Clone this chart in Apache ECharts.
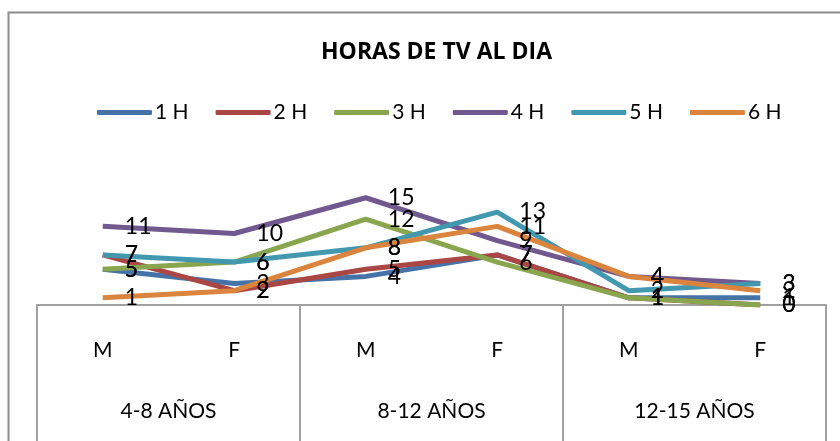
<!DOCTYPE html>
<html>
<head>
<meta charset="utf-8">
<script src="https://cdn.jsdelivr.net/npm/echarts@6/dist/echarts.min.js"></script>
<style>
  html, body { margin: 0; padding: 0; background: #fff; }
  #chart { width: 840px; height: 441px; }
</style>
</head>
<body>
<div id="chart"></div>
<script>
  // categorias del eje
  let sexos = ['M', 'F', 'M', 'F', 'M', 'F']
  let edades = ['4-8 AÑOS', '8-12 AÑOS', '12-15 AÑOS']
  let nombres = ['1 H', '2 H', '3 H', '4 H', '5 H', '6 H']

  // valores
  let h1 = [5, 3, 4, 7, 1, 1]
  let h2 = [7, 2, 5, 7, 1, 0]
  let h3 = [5, 6, 12, 6, 1, 0]
  let h4 = [11, 10, 15, 9, 4, 3]
  let h5 = [7, 6, 8, 13, 2, 3]
  let h6 = [1, 2, 8, 11, 4, 2]

  let colores = ['#4572A7', '#AA4643', '#89A54E', '#71588F', '#4198AF', '#DB843D']
  let valores = [h1, h2, h3, h4, h5, h6]
  let fuente = 'Lato, "Open Sans", sans-serif'

  let series = nombres.map((n, i) => ({
    name: n,
    type: 'line',
    data: valores[i],
    symbol: 'circle',
    symbolSize: 0.1,
    lineStyle: { width: 5, color: colores[i] },
    itemStyle: { color: colores[i] },
    label: {
      show: true,
      position: 'right',
      distance: 22,
      fontSize: 23,
      fontFamily: fuente,
      color: '#000'
    },
    emphasis: { disabled: true }
  }))

  let option = {
    animation: false,
    color: colores,
    title: {
      text: 'HORAS DE TV AL DIA',
      left: 316,
      top: 36,
      textStyle: { fontFamily: '"Open Sans", sans-serif', fontWeight: 'bold', fontSize: 23, color: '#000' }
    },
    legend: {
      data: nombres,
      top: 97,
      left: 92,
      icon: 'roundRect',
      itemWidth: 55,
      itemHeight: 5,
      itemGap: 27,
      textStyle: { fontFamily: fuente, fontSize: 21, color: '#000', padding: [0, 0, 0, -2] }
    },
    graphic: [
      {
        type: 'rect',
        shape: { x: 8.5, y: 12.5, width: 900, height: 500 },
        style: { fill: 'none', stroke: '#8c8c8c', lineWidth: 2 },
        silent: true
      }
    ],
    grid: { left: 37, right: 14, top: 162, bottom: 136 },
    xAxis: [
      {
        type: 'category',
        data: sexos,
        boundaryGap: true,
        axisLine: { show: true, lineStyle: { color: '#a0a0a0', width: 2 } },
        axisTick: { show: false },
        axisLabel: { margin: 35, fontSize: 21, fontFamily: fuente, color: '#000' }
      },
      {
        type: 'category',
        data: edades,
        position: 'bottom',
        boundaryGap: true,
        axisLine: { show: false },
        axisTick: { show: true, length: 140, lineStyle: { color: '#a0a0a0', width: 2 } },
        axisLabel: { margin: 96, fontSize: 21, fontFamily: fuente, color: '#000' }
      }
    ],
    yAxis: {
      type: 'value',
      min: 0,
      max: 20,
      show: false,
      splitLine: { show: false }
    },
    series: series
  }

  let myCharts = echarts.init(document.getElementById('chart'))
  myCharts.setOption(option)
</script>
</body>
</html>
